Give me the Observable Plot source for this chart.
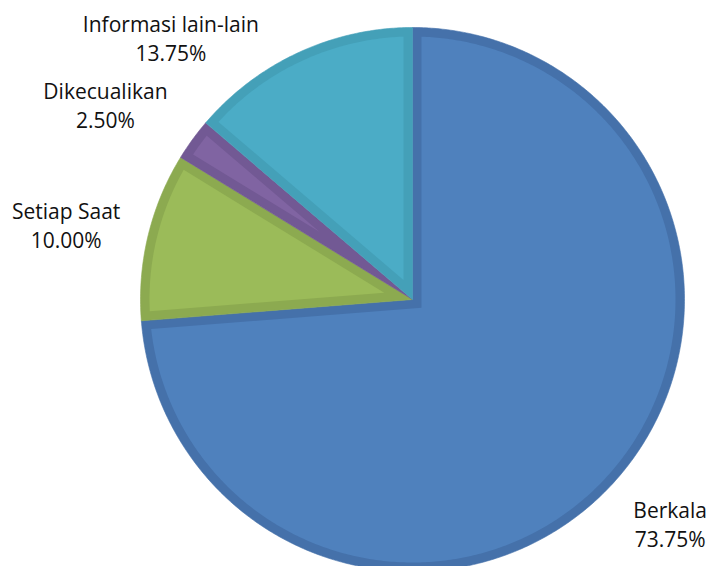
<!DOCTYPE html>
<html>
<head>
<meta charset="utf-8">
<script src="https://cdn.jsdelivr.net/npm/d3@7"></script>
<script src="https://cdn.jsdelivr.net/npm/@observablehq/plot@0.6"></script>
<style>
  html, body { margin: 0; padding: 0; background: #fff; }
  #chart { width: 708px; height: 566px; }
</style>
</head>
<body>
<div id="chart"></div>
<script>
// ---- data ----
const categories = ["Berkala", "Setiap Saat", "Dikecualikan", "Informasi lain-lain"];
const values = [73.75, 10.00, 2.50, 13.75];
const labels = ["73.75%", "10.00%", "2.50%", "13.75%"];
const fills = ["#4f81bd", "#9bbb59", "#8064a2", "#4bacc6"];
const borders = ["#4571aa", "#8caa50", "#725994", "#44a0b8"];

// ---- layout (pixels) ----
const W = 708, H = 566;
const cx = 412, cy = 299, Rpx = 272, Dpx = 9;
const R = 1, D = Dpx / Rpx;

const total = d3.sum(values);
let acc = 0;
const slices = categories.map((c, i) => {
  const a0 = acc / total * 2 * Math.PI;
  acc += values[i];
  const a1 = acc / total * 2 * Math.PI;
  return {cat: c, i, a0, a1};
});

function pt(r, a) { return [r * Math.sin(a), r * Math.cos(a)]; }

const outerPts = [], innerPts = [];
for (const s of slices) {
  const n = Math.max(8, Math.ceil((s.a1 - s.a0) / 0.01));
  outerPts.push({k: s.i, p: [0, 0]});
  for (let j = 0; j <= n; j++) outerPts.push({k: s.i, p: pt(R, s.a0 + (s.a1 - s.a0) * j / n)});
  outerPts.push({k: s.i, p: [0, 0]});

  const th = s.a1 - s.a0;
  const ri = R - D;
  const da = Math.asin(D / ri);
  const apex = pt(D / Math.sin(th / 2), (s.a0 + s.a1) / 2);
  innerPts.push({k: s.i, p: apex});
  const b0 = s.a0 + da, b1 = s.a1 - da;
  for (let j = 0; j <= n; j++) innerPts.push({k: s.i, p: pt(ri, b0 + (b1 - b0) * j / n)});
  innerPts.push({k: s.i, p: apex});
}

// label offsets in pixels relative to the mid-angle anchor
const labelR = 1.2;
const labelAdj = [[18, 2], [-29, 1], [-43, -3], [-105, 34]];
const labelData = slices.map(s => {
  const m = (s.a0 + s.a1) / 2;
  const [x, y] = pt(labelR, m);
  return {x, y, text: s.cat + "\n" + labels[s.i], dx: labelAdj[s.i][0], dy: labelAdj[s.i][1]};
});

const chart = Plot.plot({
  width: W, height: H,
  margin: 0,
  x: {domain: [-cx / Rpx, (W - cx) / Rpx], range: [0, W], axis: null},
  y: {domain: [-(H - cy) / Rpx, cy / Rpx], range: [H, 0], axis: null},
  marks: [
    Plot.line(outerPts, {x: d => d.p[0], y: d => d.p[1], z: "k", fill: d => borders[d.k], stroke: d => borders[d.k], strokeWidth: 0.6, curve: "linear"}),
    Plot.line(innerPts, {x: d => d.p[0], y: d => d.p[1], z: "k", fill: d => fills[d.k], stroke: "none", curve: "linear"}),
    ...labelData.map(l => Plot.text([l], {
      x: "x", y: "y", text: "text", dx: l.dx, dy: l.dy,
      fontSize: 21, lineHeight: 1.38, fill: "#111", textAnchor: "middle",
      fontFamily: "'Open Sans', sans-serif"
    }))
  ]
});
chart.style.fontFamily = "'Open Sans', sans-serif";
document.getElementById("chart").append(chart);
</script>
</body>
</html>
